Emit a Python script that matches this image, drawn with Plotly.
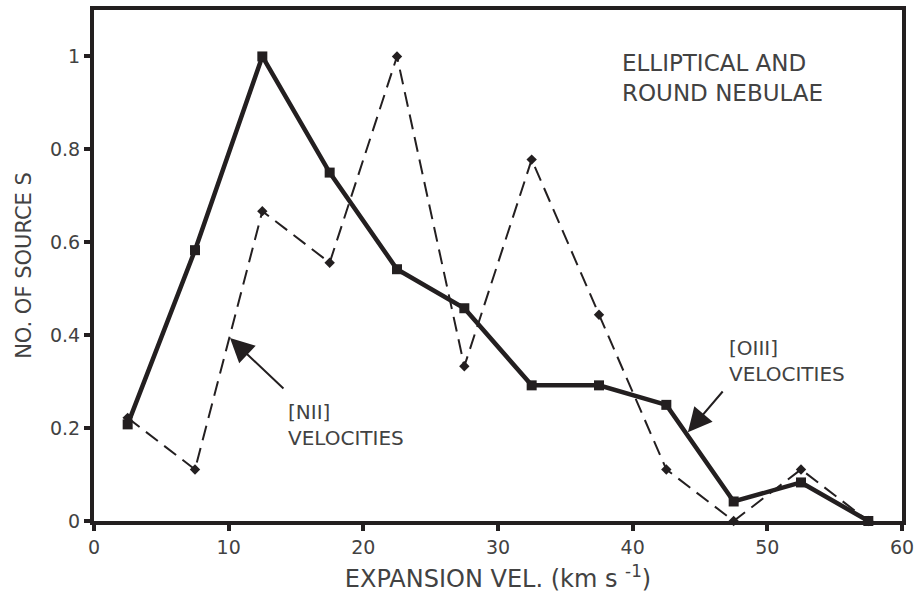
import plotly.graph_objects as go

velocity = [2.5, 7.5, 12.5, 17.5, 22.5, 27.5, 32.5, 37.5, 42.5, 47.5, 52.5, 57.5]
oiii = [0.208, 0.583, 1.0, 0.75, 0.542, 0.458, 0.292, 0.292, 0.25, 0.042, 0.083, 0.0]
nii = [0.222, 0.111, 0.667, 0.556, 1.0, 0.333, 0.778, 0.444, 0.111, 0.0, 0.111, 0.0]

x_ticks = [0, 10, 20, 30, 40, 50, 60]
y_ticks = [0, 0.2, 0.4, 0.6, 0.8, 1]
y_tick_labels = ["0", "0.2", "0.4", "0.6", "0.8", "1"]

INK = "#231f20"
TXT = "#424242"
FONT = "DejaVu Sans"

fig = go.Figure()
fig.add_trace(go.Scatter(
    x=velocity, y=nii, mode="lines+markers",
    line=dict(color=INK, width=2, dash="15px,8px"),
    marker=dict(symbol="diamond", size=8, color=INK),
    showlegend=False, cliponaxis=False))
fig.add_trace(go.Scatter(
    x=velocity, y=oiii, mode="lines+markers",
    line=dict(color=INK, width=4.5),
    marker=dict(symbol="square", size=10, color=INK),
    showlegend=False, cliponaxis=False))


def label(x, y, text, size):
    fig.add_annotation(x=x, y=y, xref="x", yref="y", xanchor="left", yanchor="middle",
                       text=text, showarrow=False, align="left", borderpad=0,
                       font=dict(family=FONT, size=size, color=TXT))


label(39.1, 0.953, "ELLIPTICAL AND<br>ROUND NEBULAE", 23)
label(14.35, 0.207, "[NII]<br>VELOCITIES", 20)
label(47.05, 0.344, "[OIII]<br>VELOCITIES", 20)

fig.add_annotation(x=10.1, y=0.394, ax=14.18, ay=0.282, xref="x", yref="y", axref="x", ayref="y",
                   text="", showarrow=True, arrowhead=2, arrowsize=2.4, arrowwidth=2,
                   arrowcolor=INK)
fig.add_annotation(x=44.1, y=0.191, ax=46.78, ay=0.282, xref="x", yref="y", axref="x", ayref="y",
                   text="", showarrow=True, arrowhead=2, arrowsize=2.4, arrowwidth=2,
                   arrowcolor=INK)

fig.update_xaxes(range=[0, 60], tickvals=x_ticks, ticks="outside", ticklen=6, tickwidth=4,
                 tickcolor=INK, showline=True, linewidth=4, linecolor=INK, mirror=True,
                 showgrid=False, zeroline=False, automargin=False,
                 tickfont=dict(family=FONT, size=19, color=TXT),
                 title=dict(text="EXPANSION VEL. (km s <sup>-1</sup>)", standoff=14,
                            font=dict(family=FONT, size=24, color=TXT)))
fig.update_yaxes(range=[0, 1.1], tickvals=y_ticks, ticktext=y_tick_labels, ticks="outside",
                 ticklen=6, tickwidth=4, tickcolor=INK, showline=True, linewidth=4,
                 linecolor=INK, mirror=True, showgrid=False, zeroline=False, automargin=False,
                 tickfont=dict(family=FONT, size=19, color=TXT),
                 title=dict(text="NO. OF SOURCE S", standoff=14,
                            font=dict(family=FONT, size=21, color=TXT)))

fig.update_layout(width=916, height=612, margin=dict(l=94, r=14, t=10, b=91),
                  plot_bgcolor="white", paper_bgcolor="white")
fig.write_html("out.html")
